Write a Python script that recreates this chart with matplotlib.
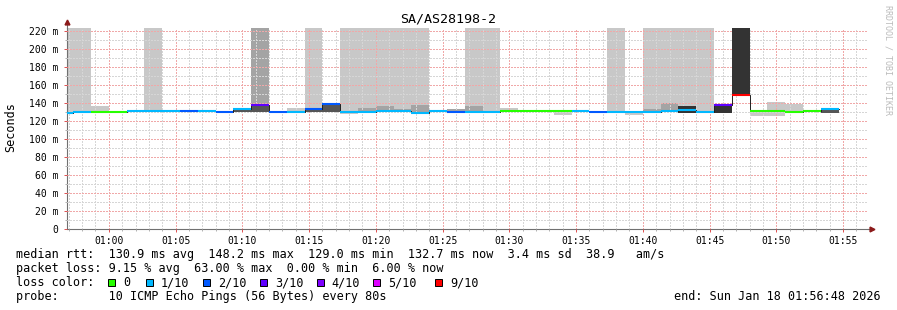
import numpy as np
import matplotlib
matplotlib.use("Agg")
import matplotlib.pyplot as plt
from matplotlib.patches import Rectangle

W, H = 897, 310
TOP = 300.0      # smoke running past the top of the graph
STEP = 80        # seconds per sample
START = -240     # first sample start, seconds relative to 01:00

# median rtt per 80s sample (ms), NaN = no data yet
median = [129.0, 130.2, 130.2, 130.2, 130.4, 130.4, 130.4, 130.3, 130.4, 129.6,
          132.7, 137.7, 129.9, 129.6, 133.5, 138.3, 130.0, 130.2, 130.6, 131.2,
          129.0, 130.3, 130.2, 129.2, 130.1, 130.4, 130.4, 130.4, 130.4, 130.4,
          130.2, 129.2, 129.2, 129.2, 131.3, 132.4, 130.0, 137.7, 148.2, 130.4,
          130.4, 130.0, 130.3, 132.7, np.nan, np.nan]

# lost pings out of 10 per sample
loss = [1, 1, 0, 0, 1, 1, 1, 2, 1, 2,
        1, 3, 2, 1, 2, 2, 1, 1, 1, 1,
        1, 1, 2, 1, 1, 0, 0, 0, 0, 1,
        2, 1, 1, 1, 1, 1, 1, 3, 6.3, 0,
        0, 0, 0, 1, 0, 0]

# smoke bands per sample: {sample: (low ms, high ms)}
smoke_light = {0: (129.0, TOP), 1: (130.0, TOP), 2: (130.0, 136.0), 5: (130.2, TOP),
               10: (129.6, 133.0), 11: (129.8, TOP), 13: (130.0, 134.0), 14: (129.8, TOP),
               15: (129.8, 138.0), 16: (127.3, TOP), 17: (130.0, TOP), 18: (130.0, TOP),
               19: (130.0, TOP), 20: (128.5, TOP), 23: (129.0, TOP), 24: (130.0, TOP),
               25: (130.2, 134.0), 28: (126.7, 130.4), 31: (129.0, TOP), 32: (126.6, 129.3),
               33: (129.2, TOP), 34: (130.0, TOP), 35: (128.8, TOP), 36: (130.0, TOP),
               39: (125.4, 130.4), 40: (125.4, 140.7), 41: (129.5, 138.6)}
smoke_mid = {11: (137.0, TOP), 17: (130.0, 134.0), 18: (130.5, 136.2), 19: (130.5, 133.5),
             20: (129.5, 137.6), 22: (130.2, 133.0), 23: (129.5, 136.4), 33: (129.5, 133.0),
             34: (131.0, 139.7)}
smoke_dark = {10: (129.6, 131.5), 11: (129.8, 136.6), 14: (129.8, 133.5), 15: (129.8, 137.5),
              43: (128.7, 132.3)}
smoke_black = {35: (128.8, 136.8), 37: (128.6, 137.0), 38: (148.2, TOP)}

loss_keys = [0, 1, 2, 3, 4, 5, 9]
loss_labels = ["0", "1/10", "2/10", "3/10", "4/10", "5/10", "9/10"]
loss_colors = ["#26ff00", "#00b8ff", "#0059ff", "#5e00ff", "#7e00ff", "#dd00ff", "#ff0000"]

rtt_avg, rtt_max, rtt_min, rtt_now, rtt_sd, am_s = 130.9, 148.2, 129.0, 132.7, 3.4, 38.9
loss_avg, loss_max, loss_min, loss_now = 9.15, 63.00, 0.00, 6.00

plt.rcParams['font.family'] = ['DejaVu Sans Mono', 'DejaVu Sans']

fig = plt.figure(figsize=(W / 100, H / 100), dpi=100)
ax = fig.add_axes([67 / W, (H - 228.7) / H, 801 / W, (228.7 - 28) / H])

med = np.array(median, dtype=float)
n = len(med)
starts = START + STEP * np.arange(n)

# smoke: light shades sit under the grid, dark ones cover it
for bands, col, z in [(smoke_light, "#c8c8c8", 1), (smoke_mid, "#a4a4a4", 1),
                      (smoke_dark, "#555555", 2.6), (smoke_black, "#333333", 2.6)]:
    k = np.array(list(bands.keys()))
    lo = np.array([v[0] for v in bands.values()])
    hi = np.array([v[1] for v in bands.values()])
    ax.bar(starts[k], hi - lo, bottom=lo, width=STEP, align='edge',
           color=col, linewidth=0, zorder=z)

# thin median line (shows at the steps), then loss coloured segments
edges = START + STEP * np.arange(n + 1)
ax.step(edges, np.append(med, med[-1]), where='post', color='#202020', lw=0.7, zorder=3)
bucket = np.searchsorted(loss_keys, loss, side='left')
ok = ~np.isnan(med)
ax.hlines(med[ok], starts[ok], starts[ok] + STEP,
          colors=[loss_colors[b] for b in bucket[ok]], lw=1.5, zorder=4, capstyle='butt')

ax.set_xlim(-188, 3412)
ax.set_ylim(0, 223)

ax.set_xticks(np.arange(0, 3301, 300))
ax.set_xticklabels(["01:%02d" % m for m in range(0, 56, 5)])
ax.set_xticks(np.arange(-180, 3412, 60), minor=True)
ax.set_yticks(np.arange(0, 221, 20))
ax.set_yticklabels(["0"] + ["%d m" % v for v in range(20, 221, 20)])
ax.set_yticks(np.arange(10, 221, 20), minor=True)

ax.set_axisbelow(False)
ax.grid(True, which='major', color='#f0a8a8', lw=0.72,
        ls=(0, (1.4, 1.4)), antialiased=False)
ax.grid(True, which='minor', color='#d6d6d6', lw=0.72,
        ls=(0, (1.4, 1.4)), antialiased=False)
ax.tick_params(which='major', length=2, width=0.7, color='#dd5050', labelsize=7, pad=3)
ax.tick_params(which='minor', length=1.5, width=0.7, color='#b0b0b0')
ax.tick_params(axis='y', pad=4)

for s in ['top', 'right']:
    ax.spines[s].set_visible(False)
for s in ['left', 'bottom']:
    ax.spines[s].set_color('#707070')
    ax.spines[s].set_linewidth(0.8)
ax.plot([0, 0], [1, 1.025], transform=ax.transAxes, color='#707070', lw=0.8, clip_on=False)
ax.plot([1, 1.004], [0, 0], transform=ax.transAxes, color='#707070', lw=0.8, clip_on=False)
ax.plot([0], [1.03], transform=ax.transAxes, marker='^', ms=3.5, color='#8b1a1a', clip_on=False)
ax.plot([1.005], [0], transform=ax.transAxes, marker='>', ms=3.5, color='#8b1a1a', clip_on=False)


def fx(x):
    return x / W


def fy(y):
    return 1 - y / H


fig.text(fx(448), fy(19), "SA/AS28198-2", ha='center', va='center', fontsize=9.6)
fig.text(fx(11), fy(127), "Seconds", ha='center', va='center', rotation=90, fontsize=8.5)
fig.text(fx(888), fy(5), "RRDTOOL / TOBI OETIKER", ha='center', va='top', rotation=270,
         fontsize=6, color='#bbbbbb')

fs = 8.5
line1 = ("median rtt:  %.1f ms avg  %.1f ms max  %.1f ms min  %.1f ms now  %.1f ms sd  %.1f   am/s"
         % (rtt_avg, rtt_max, rtt_min, rtt_now, rtt_sd, am_s))
line2 = ("packet loss: %.2f %% avg  %.2f %% max  %.2f %% min  %.2f %% now"
         % (loss_avg, loss_max, loss_min, loss_now))
fig.text(fx(16), fy(258), line1, ha='left', va='baseline', fontsize=fs)
fig.text(fx(16), fy(272), line2, ha='left', va='baseline', fontsize=fs)
fig.text(fx(16), fy(286), "loss color:", ha='left', va='baseline', fontsize=fs)
fig.text(fx(16), fy(300), "probe:       10 ICMP Echo Pings (56 Bytes) every 80s",
         ha='left', va='baseline', fontsize=fs)
fig.text(fx(881), fy(300), "end: Sun Jan 18 01:56:48 2026", ha='right', va='baseline', fontsize=fs)

box_x = [108.3, 145.7, 203.3, 260, 316.7, 373.3, 435]
for bx, lab, col in zip(box_x, loss_labels, loss_colors):
    fig.patches.append(Rectangle((fx(bx), fy(286)), 7 / W, 7.5 / H, transform=fig.transFigure,
                                 facecolor=col, edgecolor='black', lw=0.7))
    fig.text(fx(bx + 15), fy(286), lab, ha='left', va='baseline', fontsize=fs)

fig.savefig("out.png", dpi=100)
